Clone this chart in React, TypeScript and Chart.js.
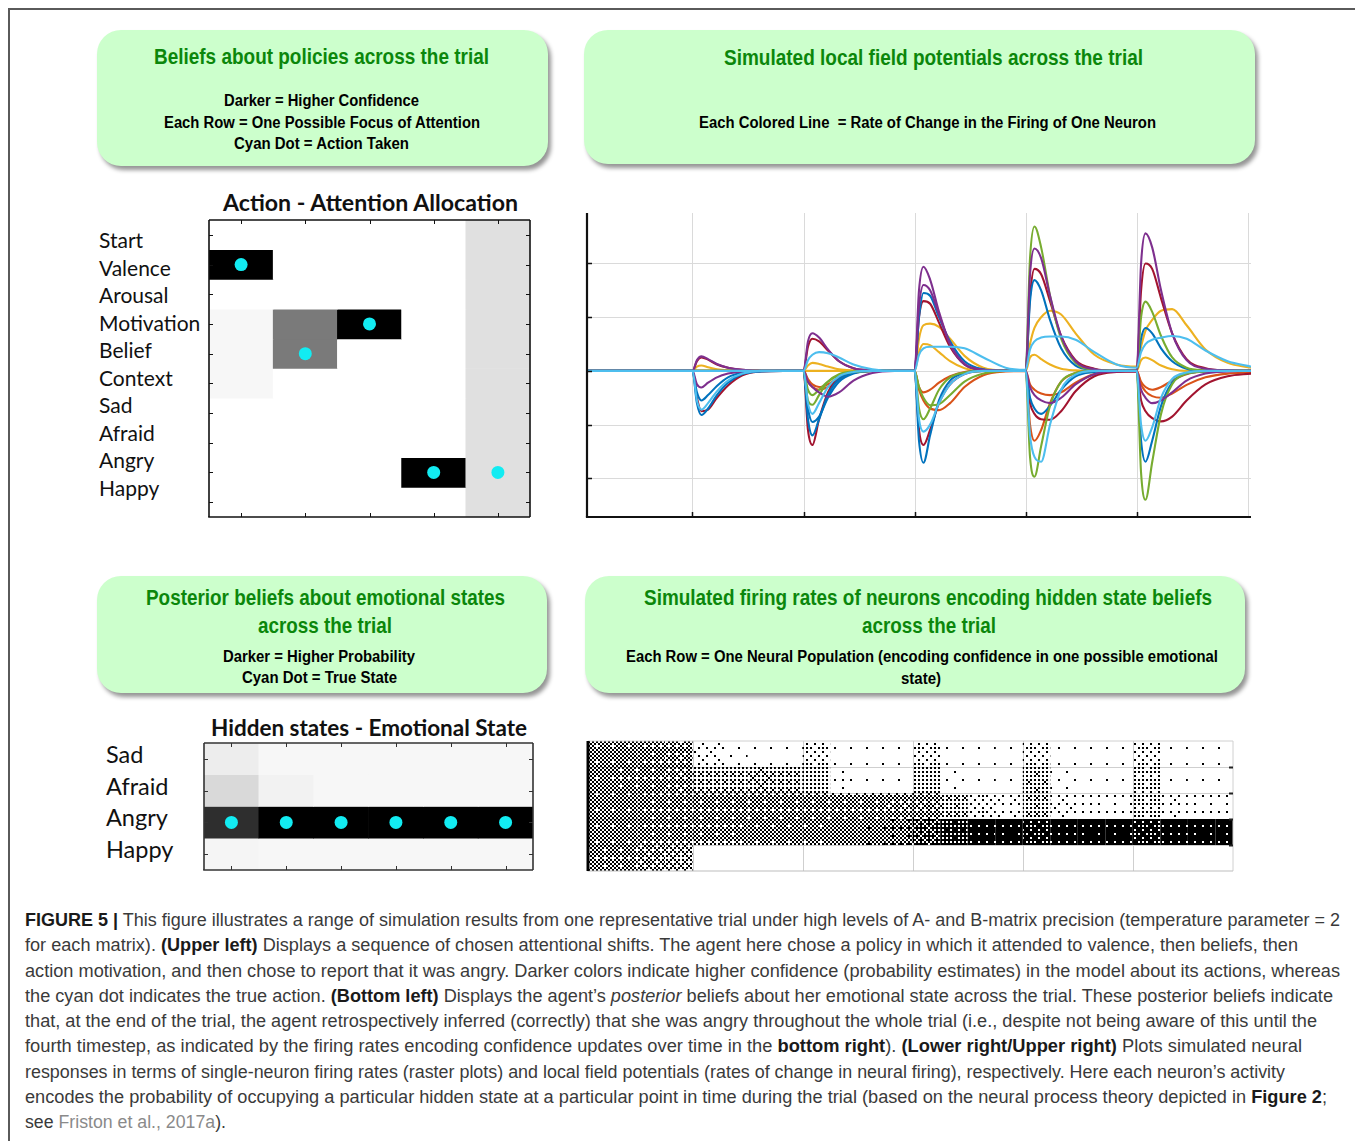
import React, { useEffect, useLayoutEffect, useRef } from 'react';
import { Chart, registerables } from 'chart.js';

Chart.register(...registerables);

// ---------------- Data: policies heatmap (upper left) ----------------
const POLICY_ROWS = ['Start', 'Valence', 'Arousal', 'Motivation', 'Belief', 'Context', 'Sad', 'Afraid', 'Angry', 'Happy'];
const POLICY_STEPS = ['1', '2', '3', '4', '5'];
// confidence per row (0 = white, 1 = black), one value per step
const POLICY_CONFIDENCE = [
  [0, 0, 0, 0, 0.12],
  [1, 0, 0, 0, 0.12],
  [0, 0, 0, 0, 0.12],
  [0.03, 0.52, 1, 0, 0.12],
  [0.03, 0.52, 0, 0, 0.12],
  [0.03, 0, 0, 0, 0.12],
  [0, 0, 0, 0, 0.12],
  [0, 0, 0, 0, 0.12],
  [0, 0, 0, 1, 0.12],
  [0, 0, 0, 0, 0.12],
];
const POLICY_TAKEN = ['Valence', 'Belief', 'Motivation', 'Angry', 'Angry'];

// ---------------- Data: emotional state heatmap (lower left) ----------------
const EMOTION_ROWS = ['Sad', 'Afraid', 'Angry', 'Happy'];
const EMOTION_STEPS = ['1', '2', '3', '4', '5', '6'];
const EMOTION_PROB = [
  [0.07, 0.03, 0.03, 0.03, 0.03, 0.03],
  [0.15, 0.05, 0.03, 0.03, 0.03, 0.03],
  [0.82, 1, 1, 1, 1, 1],
  [0.04, 0.03, 0.03, 0.03, 0.03, 0.03],
];
const EMOTION_TRUE = ['Angry', 'Angry', 'Angry', 'Angry', 'Angry', 'Angry'];

// ---------------- Data: local field potentials (upper right) ----------------
const LFP_TIMES = [0.05,
  1, 1.04, 1.08, 1.14, 1.22, 1.32, 1.45, 1.62, 1.82,
  2, 2.04, 2.08, 2.14, 2.22, 2.32, 2.45, 2.62, 2.82,
  3, 3.04, 3.08, 3.14, 3.22, 3.32, 3.45, 3.62, 3.82,
  4, 4.04, 4.08, 4.14, 4.22, 4.32, 4.45, 4.62, 4.82,
  5, 5.04, 5.08, 5.14, 5.22, 5.32, 5.45, 5.62, 5.82,
  6.03];
const LFP_X_TICKS = [1, 2, 3, 4, 5, 6];
const LFP_Y_TICKS = [-2, -1, 0, 1, 2];

const LFP_N1 = [0,
  0, -0.6, -0.82, -0.7, -0.45, -0.22, -0.06, -0.01, 0,
  0, -0.7, -0.95, -0.85, -0.5, -0.2, -0.05, 0, 0,
  0, 1.0, 1.45, 1.4, 1.0, 0.55, 0.18, 0.03, 0,
  0, 1.3, 1.69, 1.5, 0.95, 0.42, 0.1, 0.02, 0,
  0, 0.6, 0.8, 0.7, 0.42, 0.18, 0.04, 0, 0,
  0];
const LFP_N2 = [0,
  0, 0, 0, 0, 0, 0, 0, 0, 0,
  0, -0.15, -0.25, -0.3, -0.25, -0.12, -0.03, 0, 0,
  0, -0.35, -0.55, -0.7, -0.73, -0.6, -0.3, -0.08, -0.01,
  0, -1.0, -1.3, -1.1, -0.6, -0.2, -0.04, 0, 0,
  0, -0.25, -0.38, -0.47, -0.5, -0.42, -0.26, -0.12, -0.05,
  -0.03];
const LFP_N3 = [0,
  0, 0.08, 0.1, 0.07, 0.03, 0.01, 0, 0, 0,
  0, 0.1, 0.15, 0.13, 0.08, 0.03, 0.01, 0, 0,
  0, 0.6, 0.85, 0.88, 0.82, 0.6, 0.28, 0.06, 0.01,
  0.01, 0.5, 0.8, 1.0, 1.12, 1.05, 0.7, 0.3, 0.12,
  0.08, 0.45, 0.75, 0.95, 1.12, 1.15, 0.85, 0.4, 0.15,
  0.06];
const LFP_N4 = [0,
  0, 0.2, 0.27, 0.22, 0.13, 0.06, 0.02, 0, 0,
  0, 0.55, 0.7, 0.62, 0.4, 0.18, 0.05, 0.01, 0,
  0, 1.5, 1.94, 1.7, 1.1, 0.5, 0.12, 0.02, 0,
  0, 1.8, 2.28, 2.1, 1.4, 0.65, 0.18, 0.03, 0,
  0, 2.0, 2.56, 2.3, 1.5, 0.7, 0.2, 0.04, 0.01,
  0];
const LFP_N5 = [0,
  0, 0, 0, 0, 0, 0, 0, 0, 0,
  0, -0.55, -0.63, -0.45, -0.2, -0.06, -0.01, 0, 0,
  0, -0.3, -0.5, -0.64, -0.62, -0.45, -0.2, -0.05, 0,
  0, 2.1, 2.69, 2.3, 1.4, 0.6, 0.15, 0.02, 0,
  0, 1.0, 1.29, 1.1, 0.65, 0.25, 0.06, 0.01, 0,
  0];
const LFP_N6 = [0,
  0, -0.55, -0.72, -0.6, -0.38, -0.18, -0.05, 0, 0,
  0, -0.6, -0.8, -0.6, -0.3, -0.1, -0.02, 0, 0,
  0, -0.9, -1.13, -1.0, -0.6, -0.25, -0.06, 0, 0,
  0, -1.2, -1.6, -1.69, -1.0, -0.35, -0.07, 0, 0,
  0, -1.0, -1.3, -1.05, -0.5, -0.15, -0.03, 0, 0,
  0];
const LFP_N7 = [0,
  0, 0.18, 0.25, 0.21, 0.12, 0.06, 0.02, 0, 0,
  0, 0.45, 0.6, 0.55, 0.38, 0.18, 0.05, 0.01, 0,
  0, 1.0, 1.3, 1.25, 0.9, 0.45, 0.12, 0.02, 0,
  0, 1.4, 1.9, 1.8, 1.3, 0.65, 0.2, 0.04, 0,
  0, 1.5, 2.0, 1.9, 1.35, 0.7, 0.22, 0.05, 0.01,
  0];
const LFP_N8 = [0,
  0, -0.4, -0.55, -0.45, -0.28, -0.12, -0.03, 0, 0,
  0, -0.9, -1.2, -0.9, -0.45, -0.15, -0.03, 0, 0,
  0, -1.3, -1.71, -1.2, -0.55, -0.18, -0.04, 0, 0,
  0, -0.5, -0.7, -0.8, -0.65, -0.35, -0.1, -0.02, 0,
  0, -1.3, -1.69, -1.3, -0.65, -0.22, -0.05, -0.01, 0,
  0];
const LFP_N9 = [0,
  0, 0, 0, 0, 0, 0, 0, 0, 0,
  0, -0.2, -0.3, -0.35, -0.3, -0.15, -0.04, 0, 0,
  0, -0.3, -0.4, -0.35, -0.22, -0.1, -0.02, 0, 0,
  0, -0.25, -0.35, -0.42, -0.45, -0.4, -0.22, -0.06, -0.01,
  0, -0.2, -0.3, -0.35, -0.3, -0.18, -0.06, -0.01, 0,
  0];
const LFP_N10 = [0,
  0, 0, 0, 0, 0, 0, 0, 0, 0,
  0, 0, 0, 0, 0, 0, 0, 0, 0,
  0, 0.35, 0.5, 0.48, 0.35, 0.18, 0.05, 0.01, 0,
  0, 0.25, 0.3, 0.22, 0.12, 0.04, 0.01, 0, 0,
  0, 0.2, 0.25, 0.2, 0.1, 0.03, 0, 0, 0,
  0];
const LFP_N11 = [0,
  0, -0.25, -0.31, -0.22, -0.12, -0.05, -0.01, 0, 0,
  0, -0.2, -0.3, -0.4, -0.48, -0.4, -0.18, -0.04, 0,
  0, 1.2, 1.6, 1.5, 1.05, 0.5, 0.13, 0.02, 0,
  0, -0.3, -0.45, -0.55, -0.6, -0.5, -0.25, -0.06, -0.01,
  0, -0.35, -0.5, -0.6, -0.55, -0.4, -0.18, -0.05, -0.01,
  0];
const LFP_N12 = [0,
  0, 0, 0, 0, 0, 0, 0, 0, 0,
  0, -0.35, -0.45, -0.35, -0.2, -0.08, -0.02, 0, 0,
  0, -0.7, -0.9, -0.7, -0.35, -0.12, -0.03, 0, 0,
  0, -1.6, -1.97, -1.4, -0.65, -0.2, -0.04, 0, 0,
  0, -1.9, -2.4, -1.7, -0.8, -0.25, -0.05, -0.01, 0,
  0];
const LFP_N13 = [0,
  0, 0, 0, 0, 0, 0, 0, 0, 0,
  0, 0.2, 0.3, 0.35, 0.33, 0.25, 0.12, 0.03, 0,
  0, 0.3, 0.42, 0.45, 0.45, 0.45, 0.42, 0.25, 0.06,
  0.02, 0.4, 0.55, 0.62, 0.64, 0.64, 0.58, 0.35, 0.12,
  0.06, 0.35, 0.5, 0.58, 0.62, 0.65, 0.6, 0.38, 0.18,
  0.08];
const LFP_N14 = [0,
  0, -0.5, -0.75, -0.72, -0.5, -0.27, -0.08, -0.01, 0,
  0, -1.1, -1.38, -0.9, -0.4, -0.12, -0.03, 0, 0,
  0, -1.1, -1.38, -1.1, -0.6, -0.25, -0.06, 0, 0,
  0, -0.6, -0.8, -0.9, -0.91, -0.75, -0.38, -0.1, -0.02,
  -0.01, -0.55, -0.75, -0.88, -0.94, -0.85, -0.55, -0.25, -0.1,
  -0.05];
// drawing order: first is on top
const LFP_SERIES = [LFP_N13, LFP_N6, LFP_N4, LFP_N11, LFP_N5, LFP_N12, LFP_N1, LFP_N8, LFP_N7, LFP_N14, LFP_N2, LFP_N9, LFP_N3, LFP_N10];
const LFP_COLORS = ['#4DBEEE', '#4DBEEE', '#7E2F8E', '#7E2F8E', '#77AC30', '#77AC30', '#0072BD', '#0072BD', '#A2142F', '#A2142F', '#D95319', '#D95319', '#EDB120', '#EDB120'];

// ---------------- Data: raster (lower right), spike density per band and time bin ----------------
const RASTER_BINS = [0.125, 0.375, 0.625, 0.875, 1.125, 1.375, 1.625, 1.875, 2.125, 2.375, 2.625, 2.875,
  3.125, 3.375, 3.625, 3.875, 4.125, 4.375, 4.625, 4.875, 5.125, 5.375, 5.625, 5.875];
const RASTER_BAND_A = [0.48, 0.48, 0.45, 0.42, 0.1, 0.03, 0.02, 0.02, 0.14, 0.02, 0.01, 0.01, 0.14, 0.02, 0.01, 0.01, 0.14, 0.02, 0.02, 0.01, 0.14, 0.02, 0.02, 0.02];
const RASTER_BAND_B = [0.48, 0.45, 0.45, 0.42, 0.32, 0.32, 0.35, 0.32, 0.25, 0.04, 0.02, 0.02, 0.25, 0.03, 0.02, 0.01, 0.28, 0.03, 0.02, 0.02, 0.2, 0.02, 0.01, 0.01];
const RASTER_BAND_C = [0.48, 0.48, 0.45, 0.45, 0.45, 0.45, 0.45, 0.45, 0.45, 0.45, 0.45, 0.42, 0.42, 0.3, 0.14, 0.08, 0.3, 0.1, 0.06, 0.05, 0.2, 0.08, 0.05, 0.04];
const RASTER_BAND_D = [0.48, 0.48, 0.45, 0.45, 0.45, 0.45, 0.48, 0.48, 0.48, 0.5, 0.52, 0.55, 0.65, 0.8, 0.94, 0.95, 0.85, 0.93, 0.95, 0.95, 0.85, 0.93, 0.95, 0.95];
const RASTER_BAND_E = [0.45, 0.45, 0.4, 0.36, 0, 0, 0, 0, 0, 0, 0, 0, 0, 0, 0, 0, 0, 0, 0, 0, 0, 0, 0, 0];
const RASTER_BANDS = [RASTER_BAND_A, RASTER_BAND_B, RASTER_BAND_C, RASTER_BAND_D, RASTER_BAND_E];
const RASTER_X_GRID = [1, 2, 3, 4, 5];
const RASTER_Y_GRID = [1, 2, 3, 4];

// ---------------- Styling helpers ----------------
const NARROW = "'Liberation Sans Narrow', 'Arial Narrow', 'Liberation Sans', Arial, sans-serif";
const CAPTION_FONT = "'Liberation Sans', Arial, Helvetica, sans-serif";
const LABEL_FONT = "Lato, 'Open Sans', 'DejaVu Sans', sans-serif";
const GREEN = '#0b870b';
const CYAN = '#12ECF2';

const BAYER = [
  [0, 32, 8, 40, 2, 34, 10, 42],
  [48, 16, 56, 24, 50, 18, 58, 26],
  [12, 44, 4, 36, 14, 46, 6, 38],
  [60, 28, 52, 20, 62, 30, 54, 22],
  [3, 35, 11, 43, 1, 33, 9, 41],
  [51, 19, 59, 27, 49, 17, 57, 25],
  [15, 47, 7, 39, 13, 45, 5, 37],
  [63, 31, 55, 23, 61, 29, 53, 21],
];

function grey(v: number) {
  const c = Math.round(255 * (1 - v));
  return `rgb(${c},${c},${c})`;
}

function makeDecor(cfg: any) {
  return {
    id: 'decor',
    beforeDatasetsDraw(chart: any) {
      const { ctx, chartArea: a, scales } = chart;
      if (!cfg.grid) return;
      ctx.save();
      ctx.strokeStyle = cfg.grid.color;
      ctx.lineWidth = 1;
      ctx.beginPath();
      (cfg.grid.x || []).forEach((v: number) => {
        const p = Math.round(scales.x.getPixelForValue(v)) + 0.5;
        ctx.moveTo(p, a.top); ctx.lineTo(p, a.bottom);
      });
      (cfg.grid.y || []).forEach((v: number) => {
        const p = Math.round(scales.y.getPixelForValue(v)) + 0.5;
        ctx.moveTo(a.left, p); ctx.lineTo(a.right, p);
      });
      ctx.stroke();
      ctx.restore();
    },
    afterDatasetsDraw(chart: any) {
      const { ctx, chartArea: a, scales } = chart;
      ctx.save();
      (cfg.borders || []).forEach((b: any) => {
        ctx.strokeStyle = b.color;
        ctx.lineWidth = b.width;
        ctx.beginPath();
        if (b.side === 'left') { ctx.moveTo(a.left, a.top); ctx.lineTo(a.left, a.bottom); }
        if (b.side === 'right') { ctx.moveTo(a.right, a.top); ctx.lineTo(a.right, a.bottom); }
        if (b.side === 'top') { ctx.moveTo(a.left, a.top); ctx.lineTo(a.right, a.top); }
        if (b.side === 'bottom') { ctx.moveTo(a.left - b.width / 2, a.bottom); ctx.lineTo(a.right, a.bottom); }
        ctx.stroke();
      });
      if (cfg.ticks) {
        const t = cfg.ticks;
        ctx.strokeStyle = t.color;
        ctx.lineWidth = t.width;
        ctx.beginPath();
        (t.x || []).forEach((v: number) => {
          const p = Math.round(scales.x.getPixelForValue(v)) + 0.5;
          if (t.bottom) { ctx.moveTo(p, a.bottom); ctx.lineTo(p, a.bottom - t.len); }
          if (t.top) { ctx.moveTo(p, a.top); ctx.lineTo(p, a.top + t.len); }
        });
        (t.y || []).forEach((v: number) => {
          const p = Math.round(scales.y.getPixelForValue(v)) + 0.5;
          if (t.left) { ctx.moveTo(a.left, p); ctx.lineTo(a.left + t.len, p); }
          if (t.right) { ctx.moveTo(a.right, p); ctx.lineTo(a.right - t.len, p); }
        });
        ctx.stroke();
      }
      ctx.restore();
    },
  };
}

const BASE_OPTIONS = {
  responsive: false,
  animation: false as const,
  events: [] as any[],
  layout: { padding: 10 },
  plugins: { legend: { display: false }, tooltip: { enabled: false }, title: { display: false } },
};

function heatmapConfig(rows: string[], cols: string[], values: number[][], dots: string[], radius: number, frameColor: string) {
  const datasets: any[] = rows.map((r, ri) => ({
    type: 'bar',
    label: r,
    data: cols.map(() => [ri, ri + 1]),
    backgroundColor: cols.map((_, ci) => grey(values[ri][ci])),
    grouped: false,
    barPercentage: 1,
    categoryPercentage: 1,
    borderWidth: 0,
    order: 1,
  }));
  datasets.push({
    type: 'line',
    label: 'dot',
    data: cols.map((_, ci) => rows.indexOf(dots[ci]) + 0.5),
    showLine: false,
    pointRadius: radius,
    pointBackgroundColor: CYAN,
    pointBorderWidth: 0,
    order: 0,
  });
  return {
    type: 'bar',
    data: { labels: cols, datasets },
    options: {
      ...BASE_OPTIONS,
      scales: {
        x: { display: false },
        y: { display: false, min: 0, max: rows.length, reverse: true },
      },
    },
    plugins: [makeDecor({
      borders: ['left', 'right', 'top', 'bottom'].map((s) => ({ side: s, color: frameColor, width: 1.6 })),
      ticks: {
        x: cols.map((_, i) => i),
        y: rows.map((_, i) => i + 0.5),
        len: 4, color: frameColor, width: 1,
        top: true, bottom: true, left: true, right: true,
      },
    })],
  };
}

function lfpConfig() {
  return {
    type: 'line',
    data: {
      datasets: LFP_SERIES.map((s, i) => ({
        label: 'neuron ' + (i + 1),
        data: LFP_TIMES.map((t, k) => ({ x: t, y: s[k] })),
        borderColor: LFP_COLORS[i],
        borderWidth: 2.1,
        pointRadius: 0,
        cubicInterpolationMode: 'monotone',
        fill: false,
      })),
    },
    options: {
      ...BASE_OPTIONS,
      scales: {
        x: { type: 'linear', display: false, min: 0.05, max: 6.03 },
        y: { type: 'linear', display: false, min: -2.72, max: 2.94 },
      },
    },
    plugins: [makeDecor({
      grid: { x: LFP_X_TICKS, y: LFP_Y_TICKS, color: '#dadada' },
      borders: [{ side: 'left', color: '#111', width: 2.2 }, { side: 'bottom', color: '#111', width: 2.2 }],
      ticks: { x: LFP_X_TICKS.slice(0, 5), y: LFP_Y_TICKS, len: 5, color: '#111', width: 1.5, left: true, bottom: true },
    })],
  };
}

function rasterConfig(canvas: HTMLCanvasElement) {
  const ctx = canvas.getContext('2d')!;
  const cache: Record<number, any> = {};
  const cell = 2;
  const pattern = (d: number) => {
    const level = Math.round(d * 64);
    if (level <= 0) return 'rgba(0,0,0,0)';
    if (cache[level]) return cache[level];
    const tile = document.createElement('canvas');
    tile.width = 8 * cell; tile.height = 8 * cell;
    const g = tile.getContext('2d')!;
    g.fillStyle = '#000';
    for (let i = 0; i < 8; i++) for (let j = 0; j < 8; j++) {
      if (BAYER[i][j] < level) g.fillRect(j * cell, i * cell, cell, cell);
    }
    cache[level] = ctx.createPattern(tile, 'repeat');
    return cache[level];
  };
  return {
    type: 'bar',
    data: {
      datasets: RASTER_BANDS.map((band, bi) => ({
        label: 'band ' + (bi + 1),
        data: RASTER_BINS.map((c) => ({ x: c, y: [bi, bi + 1] })),
        backgroundColor: band.map((d) => pattern(d)),
        grouped: false,
        barPercentage: 1,
        categoryPercentage: 1,
        borderWidth: 0,
        inflateAmount: 0,
      })),
    },
    options: {
      ...BASE_OPTIONS,
      scales: {
        x: { type: 'linear', display: false, min: 0.05, max: 5.91, offset: false },
        y: { type: 'linear', display: false, min: 0, max: 5, reverse: true },
      },
    },
    plugins: [makeDecor({
      grid: { x: RASTER_X_GRID, y: RASTER_Y_GRID, color: '#cfcfcf' },
      borders: [
        { side: 'top', color: '#d0d0d0', width: 1 },
        { side: 'right', color: '#d0d0d0', width: 1 },
        { side: 'bottom', color: '#bdbdbd', width: 1 },
        { side: 'left', color: '#000', width: 3 },
      ],
      ticks: { y: RASTER_Y_GRID, len: 4, color: '#222', width: 2, right: true },
    })],
  };
}

function ChartBox({ left, top, width, height, build }: any) {
  const ref = useRef<HTMLCanvasElement>(null);
  useEffect(() => {
    const c = ref.current!;
    const chart = new Chart(c, build(c));
    return () => chart.destroy();
  }, []);
  return <canvas ref={ref} width={width} height={height} style={{ position: 'absolute', left, top, width, height }} />;
}

function Fit({ x, y, w, size, weight = 400, color = '#000', family = NARROW, align = 'left', children }: any) {
  const ref = useRef<HTMLDivElement>(null);
  useLayoutEffect(() => {
    const el = ref.current;
    if (!el) return;
    const fit = () => {
      el.style.transform = 'translateY(-50%)';
      const nat = el.getBoundingClientRect().width;
      if (nat > 0) el.style.transform = `translateY(-50%) scaleX(${w / nat})`;
    };
    fit();
    const f = (document as any).fonts;
    if (f && f.ready) f.ready.then(fit);
  }, [w]);
  const left = align === 'center' ? x - w / 2 : x;
  return (
    <div ref={ref} style={{ position: 'absolute', left, top: y, whiteSpace: 'nowrap', transformOrigin: '0 50%', fontSize: size, fontWeight: weight, color, fontFamily: family, lineHeight: 1 }}>
      {children}
    </div>
  );
}

function GreenBox({ left, top, width, height }: any) {
  return <div style={{ position: 'absolute', left, top, width, height, background: '#ccffcc', borderRadius: 24, boxShadow: '3px 4px 4px rgba(0,0,0,0.42)' }} />;
}

function Labels({ rows, left, top, step, size }: any) {
  return (
    <>
      {rows.map((r: string, i: number) => (
        <div key={r + i} style={{ position: 'absolute', left, top: top + i * step, transform: 'translateY(-50%)', fontFamily: LABEL_FONT, fontSize: size, lineHeight: 1, color: '#111', whiteSpace: 'nowrap' }}>{r}</div>
      ))}
    </>
  );
}

export default function App() {
  const cap = { size: 17.5, family: CAPTION_FONT, color: '#3a3a3a' };
  const B = ({ children }: any) => <b style={{ color: '#1a1a1a' }}>{children}</b>;
  return (
    <div style={{ position: 'absolute', left: 0, top: 0, width: 1355, height: 1141, overflow: 'hidden', background: '#fff' }}>
      <div style={{ position: 'absolute', left: 8, top: 8, right: 0, bottom: 0, borderTop: '2px solid #5a5a5a', borderLeft: '2px solid #5a5a5a' }} />

      {/* Upper-left box */}
      <GreenBox left={97} top={30} width={451} height={136} />
      <Fit x={321.5} y={57} w={335} size={22} weight={700} color={GREEN} align="center">Beliefs about policies across the trial</Fit>
      <Fit x={321.5} y={101} w={195} size={16} weight={700} align="center">Darker = Higher Confidence</Fit>
      <Fit x={321.5} y={123} w={316} size={16} weight={700} align="center">Each Row = One Possible Focus of Attention</Fit>
      <Fit x={321.5} y={144} w={175} size={16} weight={700} align="center">Cyan Dot = Action Taken</Fit>

      {/* Upper-right box */}
      <GreenBox left={584} top={30} width={671} height={134} />
      <Fit x={933} y={58} w={419} size={22} weight={700} color={GREEN} align="center">Simulated local field potentials across the trial</Fit>
      <Fit x={927} y={123} w={457} size={16} weight={700} align="center">Each Colored Line&nbsp; = Rate of Change in the Firing of One Neuron</Fit>

      {/* Upper-left chart */}
      <Fit x={370} y={202} w={295} size={23} weight={700} family={LABEL_FONT} color="#111" align="center">Action - Attention Allocation</Fit>
      <Labels rows={POLICY_ROWS} left={99} top={239} step={27.55} size={21} />
      <ChartBox left={199} top={210} width={341} height={317} build={() => heatmapConfig(POLICY_ROWS, POLICY_STEPS, POLICY_CONFIDENCE, POLICY_TAKEN, 6.5, '#111')} />

      {/* Upper-right chart */}
      <ChartBox left={577} top={203} width={684} height={324} build={() => lfpConfig()} />

      {/* Lower-left box */}
      <GreenBox left={97} top={576} width={450} height={117} />
      <Fit x={325.5} y={598} w={359} size={22} weight={700} color={GREEN} align="center">Posterior beliefs about emotional states</Fit>
      <Fit x={325} y={626} w={134} size={22} weight={700} color={GREEN} align="center">across the trial</Fit>
      <Fit x={319} y={657} w={192} size={16} weight={700} align="center">Darker = Higher Probability</Fit>
      <Fit x={319} y={678} w={155} size={16} weight={700} align="center">Cyan Dot = True State</Fit>

      {/* Lower-right box */}
      <GreenBox left={585} top={576} width={660} height={117} />
      <Fit x={928} y={598} w={568} size={22} weight={700} color={GREEN} align="center">Simulated firing rates of neurons encoding hidden state beliefs</Fit>
      <Fit x={928.5} y={626} w={134} size={22} weight={700} color={GREEN} align="center">across the trial</Fit>
      <Fit x={922} y={657} w={592} size={16} weight={700} align="center">Each Row = One Neural Population (encoding confidence in one possible emotional</Fit>
      <Fit x={921} y={679} w={40} size={16} weight={700} align="center">state)</Fit>

      {/* Lower-left chart */}
      <Fit x={369} y={728} w={316} size={22} weight={700} family={LABEL_FONT} color="#111" align="center">Hidden states - Emotional State</Fit>
      <Labels rows={EMOTION_ROWS} left={106} top={755} step={31.5} size={23.5} />
      <ChartBox left={194} top={733} width={349} height={147} build={() => heatmapConfig(EMOTION_ROWS, EMOTION_STEPS, EMOTION_PROB, EMOTION_TRUE, 6.5, '#333')} />

      {/* Lower-right chart */}
      <ChartBox left={578} top={731} width={665} height={150} build={(c: HTMLCanvasElement) => rasterConfig(c)} />

      {/* Caption */}
      <Fit x={25} y={921} w={1315} {...cap}><B>FIGURE 5 |</B> This figure illustrates a range of simulation results from one representative trial under high levels of A- and B-matrix precision (temperature parameter = 2</Fit>
      <Fit x={25} y={946} w={1273} {...cap}>for each matrix). <B>(Upper left)</B> Displays a sequence of chosen attentional shifts. The agent here chose a policy in which it attended to valence, then beliefs, then</Fit>
      <Fit x={25} y={972} w={1315} {...cap}>action motivation, and then chose to report that it was angry. Darker colors indicate higher confidence (probability estimates) in the model about its actions, whereas</Fit>
      <Fit x={25} y={997} w={1308} {...cap}>the cyan dot indicates the true action. <B>(Bottom left)</B> Displays the agent’s <i>posterior</i> beliefs about her emotional state across the trial. These posterior beliefs indicate</Fit>
      <Fit x={25} y={1022} w={1292} {...cap}>that, at the end of the trial, the agent retrospectively inferred (correctly) that she was angry throughout the whole trial (i.e., despite not being aware of this until the</Fit>
      <Fit x={25} y={1047} w={1277} {...cap}>fourth timestep, as indicated by the firing rates encoding confidence updates over time in the <B>bottom right</B>). <B>(Lower right/Upper right)</B> Plots simulated neural</Fit>
      <Fit x={25} y={1073} w={1260} {...cap}>responses in terms of single-neuron firing rates (raster plots) and local field potentials (rates of change in neural firing), respectively. Here each neuron’s activity</Fit>
      <Fit x={25} y={1098} w={1302} {...cap}>encodes the probability of occupying a particular hidden state at a particular point in time during the trial (based on the neural process theory depicted in <B>Figure 2</B>;</Fit>
      <Fit x={25} y={1123} w={201} {...cap}>see <span style={{ color: '#8a8a8a' }}>Friston et al., 2017a</span>).</Fit>
    </div>
  );
}
